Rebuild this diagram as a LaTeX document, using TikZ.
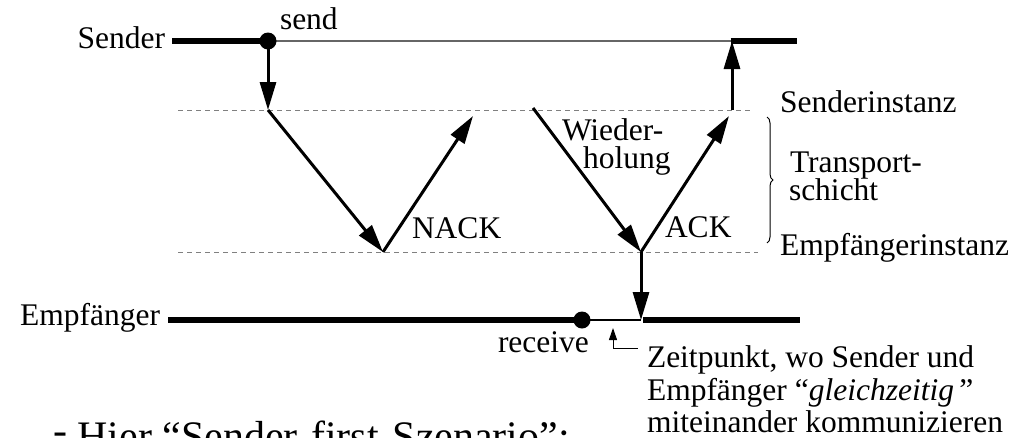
\documentclass[tikz,border=0pt]{standalone}
\usepackage{fontspec}
\setmainfont{Liberation Serif}
\usetikzlibrary{arrows.meta,decorations.pathreplacing}
\begin{document}
\begin{tikzpicture}[x=1pt,y=-1pt,
  every node/.style={font=\fontsize{31.5}{32}\selectfont, inner sep=0pt, outer sep=0pt},
  lifeline/.style={line width=6pt},
  idle/.style={line width=1.2pt, draw=black!60},
  idleE/.style={line width=1.2pt},
  level/.style={line width=0.9pt, draw=black!50, dash pattern=on 5pt off 4pt},
  msg/.style={line width=3pt, -{Triangle[length=28pt,width=16pt]}},
  dot/.style={circle, fill=black, minimum size=17pt},
  note/.style={line width=1pt, -{Triangle[length=12pt,width=8pt]}}]
\useasboundingbox (0,0) rectangle (1034,437);
\clip (0,0) rectangle (1034,437);

% coordinates
\coordinate (sL) at (172,41);
\coordinate (sS) at (268,41);
\coordinate (sA) at (732,41);
\coordinate (sR) at (797,41);
\coordinate (uS) at (268,110);
\coordinate (uN) at (473,116);
\coordinate (uW) at (533,108);
\coordinate (uA) at (729,116);
\coordinate (uU) at (732,110);
\coordinate (lN) at (383,252);
\coordinate (lA) at (641,252);
\coordinate (eL) at (168,320);
\coordinate (eR) at (582,320);
\coordinate (eA) at (641,320);
\coordinate (eB) at (643,320);
\coordinate (eE) at (800,320);
\coordinate (dul) at (178,110);
\coordinate (dur) at (752,110);
\coordinate (dll) at (178,252);
\coordinate (dlr) at (758,252);
\coordinate (bt) at (767,117);
\coordinate (bb) at (767,243);
\coordinate (nA) at (613,328);
\coordinate (nB) at (613,348);
\coordinate (nC) at (638,348);

% levels
\draw[level] (dul) -- (dur);
\draw[level] (dll) -- (dlr);

% sender
\draw[idle] (sS) -- (sA);
\draw[lifeline] (sL) -- (sS);
\draw[lifeline] ([xshift=-1.5pt]sA) -- (sR);
\node[dot] (sdot) at (sS) {};

% receiver
\draw[idleE] (eR) -- (eA);
\draw[lifeline] (eL) -- (eR);
\draw[lifeline] (eB) -- (eE);
\node[dot] (edot) at (eR) {};

% messages
\draw[msg] (sS) -- (uS);
\draw[msg] (uS) -- (lN);
\draw[msg] (lN) -- (uN);
\draw[msg] (uW) -- (lA);
\draw[msg] (lA) -- (uA);
\draw[msg] (uU) -- (sA);
\draw[msg] (lA) -- (eA);

% brace
\draw[line width=1pt, decorate, decoration={brace, amplitude=6pt}] (bt) -- (bb);

% note arrow
\draw[note] (nB) -- (nA);
\draw[line width=1pt] (nB) -- (nC);

% labels
\node[anchor=base east] (tSender) at (165,48) {Sender};
\node[anchor=base west] (tsend) at (280,29) {send};
\node[anchor=base east] (tEmpf) at (160,325) {Empfänger};
\node[anchor=base west] (trecv) at (498,352) {receive};
\node[anchor=base west] (tNACK) at (412,238) {NACK};
\node[anchor=base west] (tW1) at (562,140) {Wieder-};
\node[anchor=base west] (tW2) at (583,168) {holung};
\node[anchor=base west] (tACK) at (665,237) {ACK};
\node[anchor=base west] (tSI) at (780,112) {Senderinstanz};
\node[anchor=base west] (tT1) at (790,172) {Transport-};
\node[anchor=base west] (tT2) at (789,200) {schicht};
\node[anchor=base west] (tEI) at (780,255) {Empfängerinstanz};
\node[anchor=base west] (z1) at (647,367) {Zeitpunkt, wo Sender und};
\node[anchor=base west] (z2) at (647,400) {Empfänger “\textit{gleichzeitig}\,”};
\node[anchor=base west] (z3) at (647,432) {miteinander kommunizieren};
\node[anchor=base west, font=\fontsize{42}{44}\selectfont] (bottom) at (53,450) {\raisebox{6pt}{-} Hier “Sender-first-Szenario”:};
\end{tikzpicture}
\end{document}
